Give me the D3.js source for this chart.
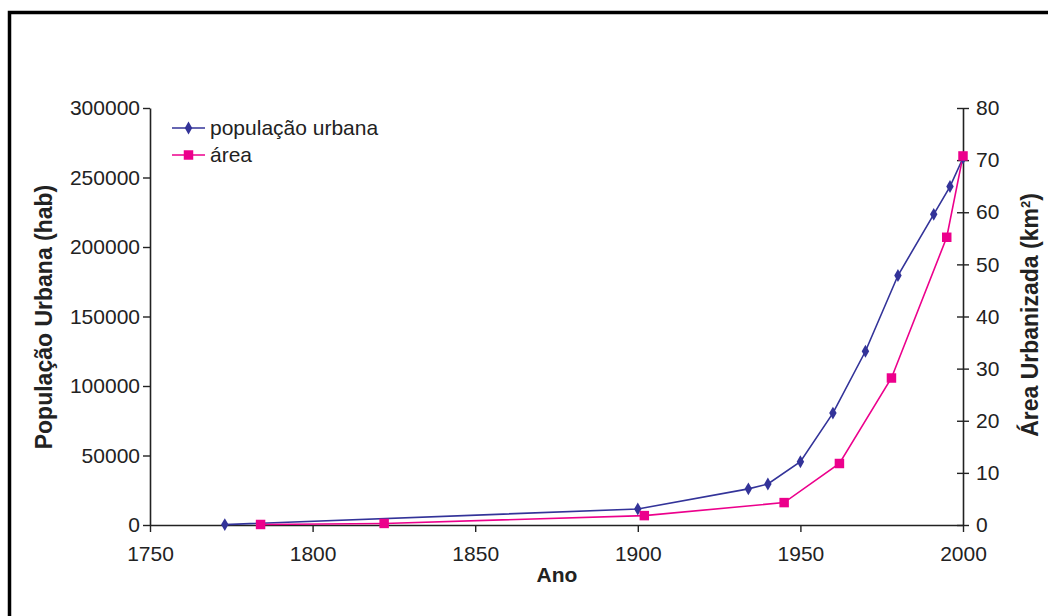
<!DOCTYPE html>
<html>
<head>
<meta charset="utf-8">
<script src="https://cdn.jsdelivr.net/npm/d3@7"></script>
<style>
  html, body { margin: 0; padding: 0; background: #fff; }
  svg { display: block; }
  text { font-family: "Liberation Sans", Arial, sans-serif; fill: #222; }
</style>
</head>
<body>
<svg id="chart" width="1048" height="616"></svg>
<script>
// ---- data ----
const popYears  = [1773, 1900, 1934, 1940, 1950, 1960, 1970, 1980, 1991, 1996, 2000];
const popValues = [300, 11500, 26000, 29500, 45500, 80500, 125000, 179500, 223500, 243500, 264000];
const areaYears  = [1784, 1822, 1902, 1945, 1962, 1978, 1995, 2000];
const areaValues = [0.1, 0.3, 1.8, 4.3, 11.8, 28.2, 55.2, 70.8];
const xTicks = [1750, 1800, 1850, 1900, 1950, 2000];
const yLeftTicks = [0, 50000, 100000, 150000, 200000, 250000, 300000];
const yRightTicks = [0, 10, 20, 30, 40, 50, 60, 70, 80];
const seriesNames = ["população urbana", "área"];

const blue = "#333399", pink = "#EC008C";
const svg = d3.select("#chart");

// frame
svg.append("rect").attr("x", 9.5).attr("y", 12.5).attr("width", 1100).attr("height", 700)
  .attr("fill", "none").attr("stroke", "#000").attr("stroke-width", 3.5);

const x = d3.scaleLinear().domain([1750, 2000]).range([150, 963]);
const yL = d3.scaleLinear().domain([0, 300000]).range([525, 108]);
const yR = d3.scaleLinear().domain([0, 80]).range([525, 108]);

const fs = 21;

// axes
const gx = svg.append("g").attr("transform", "translate(0,525)")
  .call(d3.axisBottom(x).tickValues(xTicks).tickFormat(d3.format("d")).tickSize(7).tickSizeOuter(0));
const gl = svg.append("g").attr("transform", "translate(150,0)")
  .call(d3.axisLeft(yL).tickValues(yLeftTicks).tickFormat(d3.format("d")).tickSize(7).tickSizeOuter(0));
const gr = svg.append("g").attr("transform", "translate(963,0)")
  .call(d3.axisRight(yR).tickValues(yRightTicks).tickFormat(d3.format("d")).tickSize(6).tickSizeOuter(0));
gr.selectAll(".tick line").attr("x1", -6).attr("x2", 6);

[gx, gl, gr].forEach(g => {
  g.select(".domain").attr("stroke", "#222").attr("stroke-width", 1.6);
  g.selectAll(".tick line").attr("stroke", "#222").attr("stroke-width", 1.4);
  g.selectAll(".tick text").attr("font-size", fs).attr("fill", "#333")
    .style("font-family", "'Liberation Sans', Arial, sans-serif");
});
gx.selectAll(".tick text").attr("dy", 0).attr("y", 36);
gl.selectAll(".tick text").attr("x", -10);
gr.selectAll(".tick text").attr("x", 13);

// axis titles
svg.append("text").attr("x", 557).attr("y", 582).attr("text-anchor", "middle")
  .attr("font-size", fs).attr("font-weight", "bold").text("Ano");
svg.append("text").attr("transform", "translate(52,317) rotate(-90)").attr("text-anchor", "middle")
  .attr("font-size", 23).attr("font-weight", "bold").text("População Urbana (hab)");
const rt = svg.append("text").attr("transform", "translate(1038,315) rotate(-90)").attr("text-anchor", "middle")
  .attr("font-size", 23).attr("font-weight", "bold");
rt.append("tspan").text("Área Urbanizada (km");
rt.append("tspan").attr("font-size", 13).attr("dy", -8).text("2");
rt.append("tspan").attr("dy", 8).text(")");

// lines
const popData = popYears.map((d, i) => [d, popValues[i]]);
const areaData = areaYears.map((d, i) => [d, areaValues[i]]);

svg.append("path").datum(popData).attr("fill", "none").attr("stroke", blue).attr("stroke-width", 1.6)
  .attr("d", d3.line().x(d => x(d[0])).y(d => yL(d[1])));
svg.append("path").datum(areaData).attr("fill", "none").attr("stroke", pink).attr("stroke-width", 1.6)
  .attr("d", d3.line().x(d => x(d[0])).y(d => yR(d[1])));

const diamond = d3.symbol().type(d3.symbolDiamond).size(48);
const square = d3.symbol().type(d3.symbolSquare).size(90);

svg.selectAll(".pm").data(popData).join("path").attr("class", "pm")
  .attr("transform", d => `translate(${x(d[0])},${yL(d[1])})`).attr("d", diamond).attr("fill", blue);
svg.selectAll(".am").data(areaData).join("path").attr("class", "am")
  .attr("transform", d => `translate(${x(d[0])},${yR(d[1])})`).attr("d", square).attr("fill", pink);

// legend
const legend = [{name: seriesNames[0], color: blue, sym: diamond, y: 128},
                {name: seriesNames[1], color: pink, sym: square, y: 155}];
legend.forEach(l => {
  svg.append("line").attr("x1", 172).attr("x2", 205).attr("y1", l.y).attr("y2", l.y)
    .attr("stroke", l.color).attr("stroke-width", 1.6);
  svg.append("path").attr("transform", `translate(188.5,${l.y})`).attr("d", l.sym).attr("fill", l.color);
  svg.append("text").attr("x", 210).attr("y", l.y).attr("dy", "0.35em").attr("font-size", fs).attr("fill", "#333").text(l.name);
});
</script>
</body>
</html>
